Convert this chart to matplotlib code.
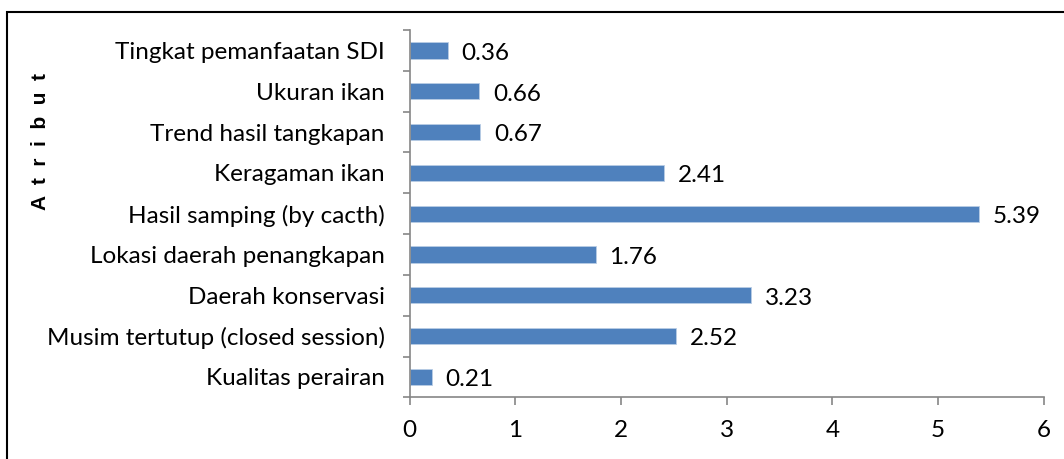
import matplotlib.pyplot as plt
from matplotlib.patches import Rectangle

categories = [
    'Kualitas perairan',
    'Musim tertutup (closed session)',
    'Daerah konservasi',
    'Lokasi daerah penangkapan',
    'Hasil samping (by cacth)',
    'Keragaman ikan',
    'Trend hasil tangkapan',
    'Ukuran ikan',
    'Tingkat pemanfaatan SDI',
]
values = [0.21, 2.52, 3.23, 1.76, 5.39, 2.41, 0.67, 0.66, 0.36]
x_ticks = [0, 1, 2, 3, 4, 5, 6]

plt.rcParams['font.family'] = ['Lato', 'DejaVu Sans']
fs = 17.5

fig = plt.figure(figsize=(10.64, 4.59), dpi=100)
ax = fig.add_axes([0.3849, 0.1344, 0.5960, 0.8002])

pos = list(range(len(categories)))
ax.barh(pos, values, height=0.4, color='#4F81BD', edgecolor='#B9CDE5', linewidth=0.6)

for p, v in zip(pos, values):
    ax.annotate(f'{v:.2f}', (v, p), xytext=(10, -2), textcoords='offset points',
                va='center', ha='left', fontsize=fs)

ax.set_xlim(0, 6)
ax.set_ylim(-0.5, len(categories) - 0.5)
ax.set_xticks(x_ticks)
ax.set_xticklabels([str(t) for t in x_ticks], fontsize=fs)
ax.set_yticks(pos)
ax.set_yticklabels(categories, fontsize=fs)
ax.set_yticks([p + 0.5 for p in range(-1, len(categories))], minor=True)
ax.tick_params(axis='y', which='major', length=0, pad=18)
ax.tick_params(axis='y', which='minor', length=5, width=1.2, color='#868686')
ax.tick_params(axis='x', length=6, width=1.2, color='#868686', pad=10)

for s in ['top', 'right']:
    ax.spines[s].set_visible(False)
for s in ['left', 'bottom']:
    ax.spines[s].set_color('#868686')
    ax.spines[s].set_linewidth(1.2)

fig.text(41 / 1064, 1 - 142 / 459, 'A  t  r  i  b  u  t', rotation=90, fontsize=15,
         fontweight='bold', family='Liberation Sans', ha='center', va='center')

fig.patches.append(Rectangle((7 / 1064, -0.1), 1.2, 0.1 + 1 - 12 / 459, transform=fig.transFigure,
                             fill=False, edgecolor='black', linewidth=1.5))

fig.savefig('out.png', dpi=100)
